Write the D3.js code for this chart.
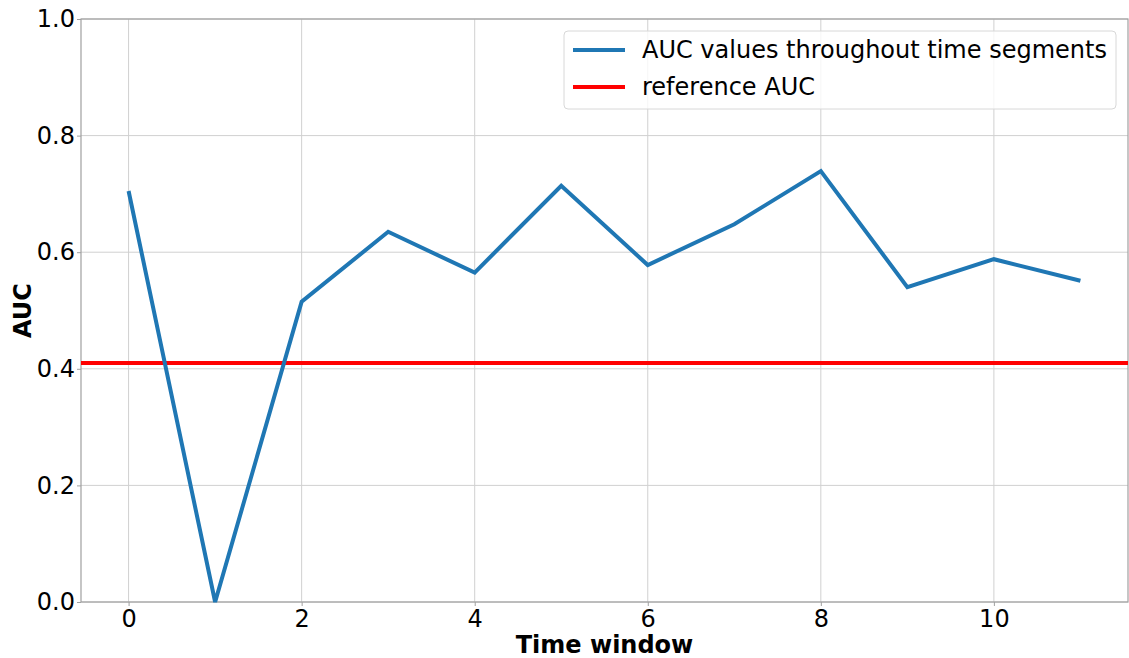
<!DOCTYPE html>
<html>
<head>
<meta charset="utf-8">
<script src="https://cdn.jsdelivr.net/npm/d3@7"></script>
<style>
  body { margin: 0; background: #fff; }
  text { font-family: "DejaVu Sans", sans-serif; }
</style>
</head>
<body>
<svg width="1129" height="658"></svg>
<script>
// AUC per time window
const windows = [0, 1, 2, 3, 4, 5, 6, 7, 8, 9, 10, 11];
const aucValues = [0.705, 0.0, 0.515, 0.635, 0.565, 0.714, 0.578, 0.648, 0.739, 0.540, 0.588, 0.551];
const referenceAuc = 0.41;
const xTicks = [0, 2, 4, 6, 8, 10];
const yTicks = [0.0, 0.2, 0.4, 0.6, 0.8, 1.0];
const seriesNames = ["AUC values throughout time segments", "reference AUC"];
const seriesColors = ["#1f77b4", "#ff0000"];

const margin = { top: 19, right: 1, bottom: 56, left: 81 };
const width = 1129, height = 658;

const svg = d3.select("svg");

const x = d3.scaleLinear()
    .domain([-0.55, 11.55])
    .range([margin.left, width - margin.right]);

const y = d3.scaleLinear()
    .domain([0, 1])
    .range([height - margin.bottom, margin.top]);

// grid
svg.append("g")
    .selectAll("line.vgrid")
    .data(xTicks)
    .enter()
    .append("line")
    .attr("x1", d => x(d)).attr("x2", d => x(d))
    .attr("y1", y(0)).attr("y2", y(1))
    .attr("stroke", "#d0d0d0")
    .attr("stroke-width", 1);

svg.append("g")
    .selectAll("line.hgrid")
    .data(yTicks)
    .enter()
    .append("line")
    .attr("x1", x(-0.55)).attr("x2", x(11.55))
    .attr("y1", d => y(d)).attr("y2", d => y(d))
    .attr("stroke", "#d0d0d0")
    .attr("stroke-width", 1);

// axes
const xAxis = svg.append("g")
    .attr("transform", `translate(0, ${y(0)})`)
    .call(d3.axisBottom(x).tickValues(xTicks).tickFormat(d3.format("d")).tickSizeOuter(0).tickSize(4).tickPadding(4));

const yAxis = svg.append("g")
    .attr("transform", `translate(${x(-0.55)}, 0)`)
    .call(d3.axisLeft(y).tickValues(yTicks).tickFormat(d3.format(".1f")).tickSizeOuter(0).tickSize(4).tickPadding(2));

[xAxis, yAxis].forEach(g => {
    g.attr("font-size", 24).attr("font-family", "DejaVu Sans");
    g.select(".domain").remove();
    g.selectAll(".tick line").attr("stroke", "#a0a0a0").attr("stroke-width", 1);
    g.selectAll(".tick text").attr("fill", "#000");
});

// frame
svg.append("rect")
    .attr("x", x(-0.55)).attr("y", y(1))
    .attr("width", x(11.55) - x(-0.55))
    .attr("height", y(0) - y(1))
    .attr("fill", "none")
    .attr("stroke", "#a0a0a0")
    .attr("stroke-width", 1.2);

// reference line
svg.append("line")
    .attr("x1", x(-0.55)).attr("x2", x(11.55))
    .attr("y1", y(referenceAuc)).attr("y2", y(referenceAuc))
    .attr("stroke", seriesColors[1])
    .attr("stroke-width", 4);

// AUC line
const line = d3.line()
    .x((d, i) => x(windows[i]))
    .y(d => y(d));

svg.append("path")
    .datum(aucValues)
    .attr("d", line)
    .attr("fill", "none")
    .attr("stroke", seriesColors[0])
    .attr("stroke-width", 4)
    .attr("stroke-linejoin", "miter");

// axis labels
svg.append("text")
    .attr("x", (x(-0.55) + x(11.55)) / 2)
    .attr("y", 653)
    .attr("text-anchor", "middle")
    .style("font-size", "24px")
    .style("font-weight", "bold")
    .text("Time window");

svg.append("text")
    .attr("transform", `translate(31, ${(y(0) + y(1)) / 2}) rotate(-90)`)
    .attr("text-anchor", "middle")
    .style("font-size", "24px")
    .style("font-weight", "bold")
    .text("AUC");

// legend
const legend = svg.append("g");
legend.append("rect")
    .attr("x", 564).attr("y", 31)
    .attr("width", 552).attr("height", 78)
    .attr("rx", 4)
    .attr("fill", "#fff")
    .attr("fill-opacity", 0.8)
    .attr("stroke", "#d8d8d8");

seriesNames.forEach((name, i) => {
    const ly = 50 + i * 37;
    legend.append("line")
        .attr("x1", 573).attr("x2", 625)
        .attr("y1", ly).attr("y2", ly)
        .attr("stroke", seriesColors[i])
        .attr("stroke-width", 4);
    legend.append("text")
        .attr("x", 642).attr("y", ly + 8)
        .style("font-size", "24px")
        .text(name);
});
</script>
</body>
</html>
